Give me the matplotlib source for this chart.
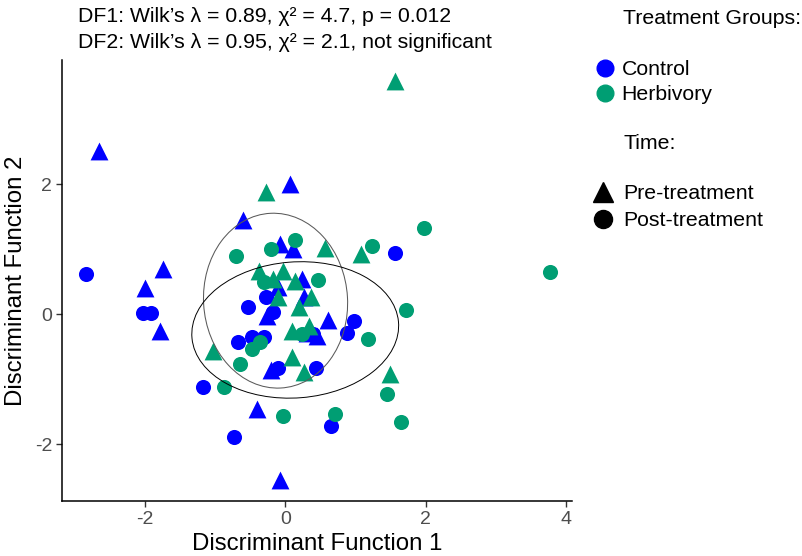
import matplotlib
matplotlib.use('Agg')
import matplotlib.pyplot as plt
from matplotlib.patches import Ellipse
from matplotlib.lines import Line2D

plt.rcParams['font.family'] = ['Liberation Sans', 'DejaVu Sans']

# discriminant scores
ctrl_pre_x = [-2.65, 0.06, -0.60, -2.00, -1.74, -1.79, -0.40, -0.07, -0.07, 0.11, 0.24, -0.10, 0.26, -0.26, 0.60, 0.31, 0.45, -0.21]
ctrl_pre_y = [2.51, 2.00, 1.45, 0.40, 0.69, -0.25, -1.46, -2.54, 1.08, 1.00, 0.54, 0.42, 0.26, -0.03, -0.08, -0.28, -0.34, -0.85]
ctrl_post_x = [-2.84, -2.02, -1.92, 1.56, -0.28, -0.53, -0.17, 0.40, 0.97, 0.88, -0.68, -0.47, -0.31, -0.10, 0.44, -1.17, -0.73, 0.65]
ctrl_post_y = [0.62, 0.02, 0.02, 0.94, 0.26, 0.11, 0.03, -0.31, -0.11, -0.29, -0.42, -0.35, -0.35, -0.83, -0.82, -1.11, -1.89, -1.72]
herb_pre_x = [1.56, -0.28, 0.57, 1.07, -0.38, -0.03, -0.17, 0.14, -0.10, 0.36, 0.20, 0.10, 0.33, -1.03, 0.09, 0.27, 1.49]
herb_pre_y = [3.58, 1.88, 1.02, 0.93, 0.66, 0.66, 0.55, 0.51, 0.26, 0.26, 0.12, -0.26, -0.18, -0.57, -0.65, -0.89, -0.91]
herb_post_x = [-0.70, -0.21, 0.13, 1.24, 1.98, 3.77, -0.31, 0.47, 0.24, 1.18, 1.71, -0.36, -0.47, -0.64, -0.88, -0.03, 0.71, 1.45, 1.65]
herb_post_y = [0.89, 1.00, 1.15, 1.05, 1.32, 0.65, 0.49, 0.53, -0.31, -0.38, 0.06, -0.43, -0.54, -0.77, -1.12, -1.57, -1.54, -1.23, -1.66]

# 95% ellipses: centre x, centre y, width, height, angle
ell_a = [-0.14, 0.21, 2.05, 2.69, 3]
ell_b = [0.14, -0.24, 2.95, 2.09, 5]

blue = '#0000FF'
green = '#009E73'

fig = plt.figure(figsize=(8.02, 5.56), dpi=100)
ax = fig.add_axes([62/802, 1-501/556, (572-62)/802, (501-60)/556])

ax.scatter(ctrl_pre_x, ctrl_pre_y, marker='^', s=165, color=blue, linewidths=0, zorder=3)
ax.scatter(ctrl_post_x, ctrl_post_y, marker='o', s=118, color=blue, linewidths=0, zorder=3)
ax.scatter(herb_pre_x, herb_pre_y, marker='^', s=165, color=green, linewidths=0, zorder=3)
ax.scatter(herb_post_x, herb_post_y, marker='o', s=118, color=green, linewidths=0, zorder=3)

ax.add_patch(Ellipse((ell_a[0], ell_a[1]), ell_a[2], ell_a[3], angle=ell_a[4],
                     fill=False, edgecolor='#5a5a5a', lw=0.75, zorder=4))
ax.add_patch(Ellipse((ell_b[0], ell_b[1]), ell_b[2], ell_b[3], angle=ell_b[4],
                     fill=False, edgecolor='black', lw=0.7, zorder=4))

ax.set_xlim(-3.18, 4.08)
ax.set_ylim(-2.87, 3.91)
ax.set_xticks([-2, 0, 2, 4])
ax.set_yticks([-2, 0, 2])
ax.set_xticklabels(['-2', '0', '2', '4'])
ax.set_yticklabels(['-2', '0', '2'])
ax.tick_params(labelsize=14, labelcolor='#4D4D4D', length=4, width=1, color='#333333', pad=3)
for side in ['top', 'right']:
    ax.spines[side].set_visible(False)
for side in ['left', 'bottom']:
    ax.spines[side].set_linewidth(1.1)
ax.set_xlabel('Discriminant Function 1', fontsize=17.3, labelpad=4)
ax.set_ylabel('Discriminant Function 2', fontsize=17.3, labelpad=6)

fig.text(78/802, 1-17/556, 'DF1: Wilk’s λ = 0.89, χ² = 4.7, p = 0.012', fontsize=15.3, va='center')
fig.text(78/802, 1-42/556, 'DF2: Wilk’s λ = 0.95, χ² = 2.1, not significant', fontsize=15.3, va='center')

# legends
fig.text(623/802, 1-18/556, 'Treatment Groups:', fontsize=15.3, va='center')
fig.text(623/802, 1-144/556, 'Time:', fontsize=15.3, va='center')

grp_handles = [Line2D([], [], ls='', marker='o', ms=12, color=blue),
               Line2D([], [], ls='', marker='o', ms=12, color=green)]
leg1 = fig.legend(grp_handles, ['Control', 'Herbivory'], loc='upper left',
                  bbox_to_anchor=(594/802, 1-60/556), frameon=False, fontsize=15.3,
                  handlelength=1.0, handletextpad=0.3, labelspacing=0.29,
                  borderpad=0, borderaxespad=0)
time_handles = [Line2D([], [], ls='', marker='^', ms=14, color='black'),
                Line2D([], [], ls='', marker='o', ms=13, color='black')]
leg2 = fig.legend(time_handles, ['Pre-treatment', 'Post-treatment'], loc='upper left',
                  bbox_to_anchor=(592/802, 1-184/556), frameon=False, fontsize=15.3,
                  handlelength=1.0, handletextpad=0.45, labelspacing=0.39,
                  borderpad=0, borderaxespad=0)

fig.savefig('out.png', dpi=100)
